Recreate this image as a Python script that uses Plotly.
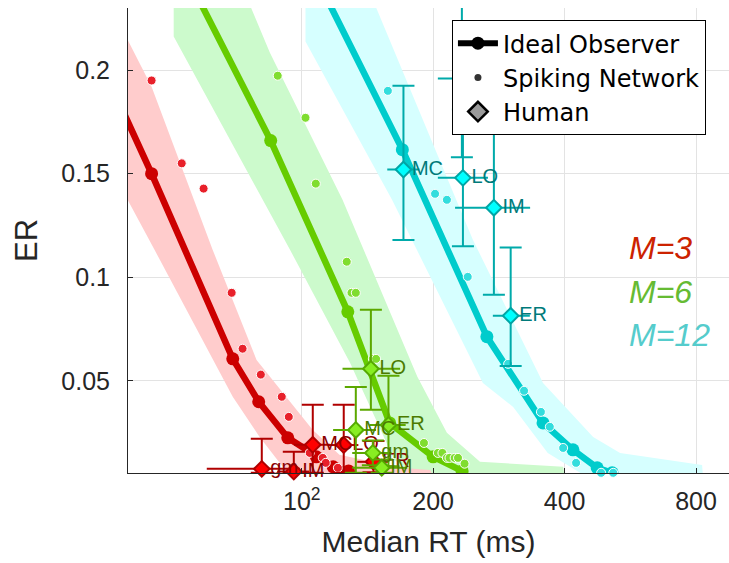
import plotly.graph_objects as go
import math

# ---------------- data ----------------
# Ideal observer curves (median RT ms, ER)
io_rt_3 = [36, 45.3, 69.5, 79.7, 92.9, 108, 118, 128]
io_er_3 = [0.196, 0.15, 0.0606, 0.0399, 0.0225, 0.0133, 0.0085, 0.0065]
io_rt_6 = [55, 84.9, 127.5, 159, 200, 233]
io_er_6 = [0.244, 0.166, 0.0833, 0.0297, 0.0133, 0.0065]
io_rt_12 = [112, 170, 265.5, 357, 418, 475, 514]
io_er_12 = [0.238, 0.1616, 0.0713, 0.0297, 0.0167, 0.008, 0.0056]

# Shaded bands (polygon outlines: upper/right side then lower/left side)
band_rt_3 = [37.3, 45.3, 62.5, 78.8, 106, 122, 168, 197, 200, 94, 80, 69.5, 46, 37.3]
band_er_3 = [0.2268, 0.192, 0.1133, 0.0601, 0.0263, 0.0143, 0.008, 0.007, 0.004, 0.004, 0.023, 0.0423, 0.1133, 0.149]
band_rt_6 = [75.2, 84.5, 124, 184, 215, 256, 397, 400, 186.5, 163, 129, 94, 50.9, 50.9]
band_er_6 = [0.234, 0.2085, 0.1374, 0.052, 0.0249, 0.0109, 0.0085, 0.004, 0.004, 0.0118, 0.0587, 0.1133, 0.2162, 0.234]
band_rt_12 = [145.5, 246.6, 357, 465, 536, 826, 830, 440, 434, 366, 305, 260, 161, 102, 102]
band_er_12 = [0.234, 0.1181, 0.049, 0.0229, 0.0152, 0.0094, 0.004, 0.004, 0.0056, 0.0152, 0.0374, 0.049, 0.1374, 0.2138, 0.234]

# Spiking network
sn_rt_3 = [45.3, 53.1, 59.6, 69.1, 73.2, 80.6, 90, 93.4, 104.3, 111.7, 113.5, 121]
sn_er_3 = [0.195, 0.155, 0.1428, 0.0925, 0.0655, 0.053, 0.0423, 0.0326, 0.0152, 0.0128, 0.0104, 0.008]
sn_rt_6 = [88.1, 102, 107.7, 126.8, 130, 133, 145.5, 148, 190.5, 205, 210, 215, 218, 224, 228, 236]
sn_er_6 = [0.1973, 0.177, 0.1452, 0.1075, 0.0925, 0.0925, 0.0606, 0.0606, 0.02, 0.0152, 0.0152, 0.0128, 0.0128, 0.0128, 0.0128, 0.01]
sn_rt_12 = [157.5, 202, 215, 240, 297, 323, 353, 370, 397, 425, 485, 517]
sn_er_12 = [0.190, 0.1403, 0.1374, 0.1002, 0.0582, 0.0452, 0.035, 0.0278, 0.0176, 0.0104, 0.0056, 0.0056]

# Human subjects
subjects_3 = ["gm", "IM", "MC", "LO", "ER"]
hu_rt_3 = [81, 95.9, 106, 124.8, 146]
hu_er_3 = [0.0075, 0.0062, 0.0191, 0.019, 0.0109]
hu_er_up_3 = [0.0145, 0.0095, 0.0193, 0.0194, 0.01]
hu_er_dn_3 = [0.0019, 0.0006, 0.0135, 0.0134, 0.005]
hu_rt_dn_3 = [20.4, 8, 10, 10, 12]
hu_rt_up_3 = [18, 8, 10, 10, 12]

subjects_6 = ["LO", "ER", "MC", "gm", "IM"]
hu_rt_6 = [144, 158, 133, 145.5, 152.5]
hu_er_6 = [0.0558, 0.0287, 0.0263, 0.0152, 0.008]
hu_er_up_6 = [0.0285, 0.0237, 0.0207, 0.006, 0.004]
hu_er_dn_6 = [0.0198, 0.02, 0.0207, 0.006, 0.0024]
hu_rt_dn_6 = [20, 15, 15, 15, 22]
hu_rt_up_6 = [24, 15, 15, 15, 22]

subjects_12 = ["gm", "MC", "LO", "IM", "ER"]
hu_rt_12 = [232.7, 171, 234, 275.5, 301]
hu_er_12 = [0.196, 0.152, 0.148, 0.1336, 0.0814]
hu_er_up_12 = [0.04, 0.0405, 0.033, 0.0384, 0.033]
hu_er_dn_12 = [0.038, 0.034, 0.033, 0.042, 0.0242]
hu_rt_dn_12 = [27.7, 14, 29, 51, 27]
hu_rt_up_12 = [30, 15, 33, 58, 32]

x_ticks = [100, 200, 400, 800]
x_tick_text = ["10<sup>2</sup>", "200", "400", "800"]
y_ticks = [0.05, 0.1, 0.15, 0.2]
y_tick_text = ["0.05", "0.1", "0.15", "0.2"]

# ---------------- styles ----------------
FONT = "Liberation Sans, Arial, Helvetica, sans-serif"
sets = [
    dict(io_rt=io_rt_12, io_er=io_er_12, b_rt=band_rt_12, b_er=band_er_12,
         sn_rt=sn_rt_12, sn_er=sn_er_12, subj=subjects_12, h_rt=hu_rt_12, h_er=hu_er_12,
         eu=hu_er_up_12, ed=hu_er_dn_12, xd=hu_rt_dn_12, xu=hu_rt_up_12,
         band="#D6FFFF", line="#00CCCC", dot="#33DDDD", dfill="#00FFFF", dline="#00A5A5",
         err="#00AAAA", txt="#007A7A"),
    dict(io_rt=io_rt_6, io_er=io_er_6, b_rt=band_rt_6, b_er=band_er_6,
         sn_rt=sn_rt_6, sn_er=sn_er_6, subj=subjects_6, h_rt=hu_rt_6, h_er=hu_er_6,
         eu=hu_er_up_6, ed=hu_er_dn_6, xd=hu_rt_dn_6, xu=hu_rt_up_6,
         band="#CCFACC", line="#66CC00", dot="#80DD30", dfill="#88EE22", dline="#55AA00",
         err="#5CA800", txt="#4B7A00"),
    dict(io_rt=io_rt_3, io_er=io_er_3, b_rt=band_rt_3, b_er=band_er_3,
         sn_rt=sn_rt_3, sn_er=sn_er_3, subj=subjects_3, h_rt=hu_rt_3, h_er=hu_er_3,
         eu=hu_er_up_3, ed=hu_er_dn_3, xd=hu_rt_dn_3, xu=hu_rt_up_3,
         band="#FFCCCC", line="#CC0000", dot="#E8202A", dfill="#FF0000", dline="#B00000",
         err="#B00000", txt="#8B0000"),
]

fig = go.Figure()

# bands
for s in sets:
    fig.add_trace(go.Scatter(x=s["b_rt"], y=s["b_er"], mode="lines", fill="toself",
                             fillcolor=s["band"], line=dict(width=0, color=s["band"]),
                             showlegend=False, hoverinfo="skip"))
# ideal observer
for s in sets:
    fig.add_trace(go.Scatter(x=s["io_rt"], y=s["io_er"], mode="lines+markers",
                             line=dict(color=s["line"], width=6.5),
                             marker=dict(color=s["line"], size=13),
                             showlegend=False))
# spiking network
for s in sets:
    fig.add_trace(go.Scatter(x=s["sn_rt"], y=s["sn_er"], mode="markers",
                             marker=dict(color=s["dot"], size=9, line=dict(color="white", width=1)),
                             cliponaxis=False, showlegend=False))
# humans
for s in [sets[2], sets[1], sets[0]]:
    fig.add_trace(go.Scatter(x=s["h_rt"], y=s["h_er"], mode="markers+text",
                             text=s["subj"], textposition="middle right",
                             textfont=dict(family=FONT, size=20, color=s["txt"]),
                             marker=dict(symbol="diamond", size=12, color=s["dfill"],
                                         line=dict(color=s["dline"], width=2)),
                             error_y=dict(type="data", symmetric=False, array=s["eu"],
                                          arrayminus=s["ed"], color=s["err"], thickness=2, width=11),
                             error_x=dict(type="data", symmetric=False, array=s["xu"],
                                          arrayminus=s["xd"], color=s["err"], thickness=2, width=0),
                             cliponaxis=False, showlegend=False))

# legend entries
fig.add_trace(go.Scatter(x=[None], y=[None], mode="lines+markers", name="Ideal Observer",
                         line=dict(color="black", width=6), marker=dict(color="black", size=13)))
fig.add_trace(go.Scatter(x=[None], y=[None], mode="markers", name="Spiking Network",
                         marker=dict(color="#333333", size=7)))
fig.add_trace(go.Scatter(x=[None], y=[None], mode="markers", name="Human",
                         marker=dict(symbol="diamond", color="#9A9A9A", size=15,
                                     line=dict(color="black", width=2.5))))

for txt, col, yp in [("M=3", "#CC2200", 0.484), ("M=6", "#66BB33", 0.389), ("M=12", "#55CCCC", 0.297)]:
    fig.add_annotation(text="<i>" + txt + "</i>", x=0.830, y=yp, xref="paper", yref="paper",
                       xanchor="left", yanchor="middle", showarrow=False,
                       font=dict(family=FONT, size=32, color=col))

axis_col = "#262626"
fig.update_layout(
    width=729, height=563,
    margin=dict(l=128, r=0, t=8, b=90),
    plot_bgcolor="white", paper_bgcolor="white",
    font=dict(family=FONT, color=axis_col),
    xaxis=dict(type="log", range=[math.log10(40), math.log10(952)],
               tickvals=x_ticks, ticktext=x_tick_text,
               showgrid=True, gridcolor="#E3E3E3", gridwidth=1,
               showline=True, linecolor=axis_col, linewidth=1,
               ticks="inside", ticklen=5, tickcolor=axis_col,
               tickfont=dict(size=25, color=axis_col), ticklabelstandoff=6,
               zeroline=False,
               title=dict(text="Median RT (ms)", font=dict(size=30, color=axis_col), standoff=16)),
    yaxis=dict(range=[0.0055, 0.23], tickvals=y_ticks, ticktext=y_tick_text,
               showgrid=True, gridcolor="#E3E3E3", gridwidth=1,
               showline=True, linecolor=axis_col, linewidth=1,
               ticks="inside", ticklen=5, tickcolor=axis_col,
               tickfont=dict(size=25, color=axis_col), ticklabelstandoff=12,
               zeroline=False,
               title=dict(text="ER", font=dict(size=31, color=axis_col), standoff=14)),
    legend=dict(x=0.539, y=0.974, xanchor="left", yanchor="top",
                bgcolor="white", bordercolor="black", borderwidth=1,
                font=dict(family="DejaVu Sans, sans-serif", size=24, color="black"),
                itemwidth=40, tracegroupgap=0),
    showlegend=True,
)

fig.write_html("out.html")
